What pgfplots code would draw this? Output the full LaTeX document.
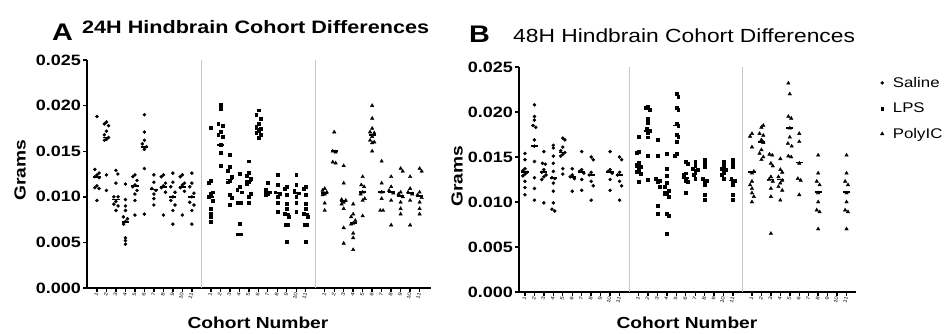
\documentclass[border=0pt]{standalone}
\usepackage{pgfplots}
\pgfplotsset{compat=1.18}
\usepackage{fontspec}
\setmainfont{Liberation Sans}[FakeStretch=1.2]

\pgfplotsset{
 panel/.style={
  scale only axis, anchor=south west,
  axis x line*=bottom, axis y line*=left,
  axis line style={-, line width=2.6pt},
  ymin=0, ymax=0.025, ytick={0,0.005,0.01,0.015,0.02,0.025},
  scaled y ticks=false,
  /pgf/number format/assume math mode=true,
  y tick label style={/pgf/number format/fixed, /pgf/number format/fixed zerofill, /pgf/number format/precision=3, font=\bfseries\fontsize{15}{15}\selectfont, inner sep=2pt},
  xtick={1,2,3,4,5,6,7,8,9,10,11,13,14,15,16,17,18,19,20,21,22,23,25,26,27,28,29,30,31,32,33,34,35},
  xticklabels={1,2,3,4,5,6,7,8,9,10,11,1,2,3,4,5,6,7,8,9,10,11,1,2,3,4,5,6,7,8,9,10,11},
  x tick label style={font=\fontsize{5}{5}\selectfont, rotate=75, anchor=east, inner sep=0.5pt},
  tick align=outside, major tick length=4pt,
  tick style={black, line width=1.4pt},
  clip=false,
 },
 sal/.style={only marks, mark=*, mark size=1.55pt, black},
 lps/.style={only marks, mark=square*, mark size=1.45pt, black},
 pic/.style={only marks, mark=triangle*, mark size=2pt, black},
 med/.style={only marks, mark=-, mark size=3.6pt, black, mark options={line width=1.8pt}, forget plot},
}

\begin{document}
\begin{tikzpicture}[x=1pt,y=1pt]
\useasboundingbox (0pt,0pt) rectangle (947pt,333pt);

% ---------------- Panel A ----------------
\begin{axis}[panel, at={(87pt,45pt)}, width=344pt, height=228pt, xmin=-0.05, xmax=36.2]
\draw[black!22, line width=0.6pt] (axis cs:12,0) -- (axis cs:12,0.025);
\draw[black!22, line width=0.6pt] (axis cs:24,0) -- (axis cs:24,0.025);
\addplot[sal] coordinates {
(1,.0188)(.78,.0130)(1.22,.0126)(1,.0124)(.78,.0122)(1.22,.0121)(1,.0112)(.78,.0110)(1.22,.0109)(1,.0096)
(2,.0182)(1.78,.0180)(2.22,.0178)(2,.0172)(1.78,.0168)(2.22,.0165)(2,.0163)(1.78,.0162)(2,.0124)(2,.0107)
(3,.0129)(3.2,.0125)(3,.0115)(2.78,.0100)(3.22,.0100)(3,.0095)(2.78,.0092)(3.22,.0090)(3,.0085)
(4,.0114)(4,.0097)(4,.0090)(4,.0085)(3.78,.0078)(4.22,.0076)(4,.0073)(3.8,.0070)(4,.0055)(4,.0052)(4,.0048)
(5,.0124)(4.78,.0122)(5.22,.0118)(5,.0113)(4.78,.0111)(5.22,.0107)(5,.0103)(5,.0096)(5,.0080)
(6,.0190)(6,.0171)(6,.0162)(5.78,.0158)(6.22,.0155)(6,.0152)(6,.0131)(6,.0081)
(7,.0124)(7,.0116)(6.78,.0109)(7.22,.0107)(7,.0103)(7,.0098)(7,.0091)
(8,.0124)(7.78,.0122)(8.22,.0115)(8,.0112)(7.78,.0110)(8.22,.0105)(8,.0080)
(9,.0126)(9,.0116)(8.78,.0111)(9.22,.0105)(9,.0100)(8.78,.0096)(9.22,.0091)(9,.0085)(9,.0070)
(10,.0124)(9.78,.0122)(10.22,.0115)(10,.0113)(9.78,.0110)(10.22,.0106)(10,.0080)
(11,.0126)(11,.0115)(10.78,.0111)(11.22,.0104)(11,.0100)(10.78,.0094)(11.22,.0091)(11,.0085)(11,.0070)
};
\addplot[med] coordinates {(1,.0122)(2,.0165)(3,.0097)(4,.0072)(5,.0112)(6,.0155)(7,.0108)(8,.0111)(9,.0100)(10,.0111)(11,.0100)};
\addplot[lps] coordinates {
(13,.0176)(13,.0118)(12.78,.0115)(13.22,.0105)(13,.0103)(12.78,.0100)(13.22,.0096)(13,.0087)(13,.0082)(13,.0078)(13,.0073)
(14,.0201)(14,.0197)(13.78,.0180)(14.22,.0178)(14,.0171)(13.78,.0168)(14.22,.0166)(14,.0157)(14,.0148)(14,.0134)
(15,.0146)(15,.0133)(14.78,.0129)(15.22,.0122)(15,.0118)(14.78,.0116)(15,.0102)(15.22,.0099)(15,.0091)
(16,.0125)(16,.0111)(15.78,.0108)(16.22,.0105)(15.8,.0094)(16.2,.0093)(16,.0071)(15.8,.0059)(16.2,.0059)
(17,.0139)(17,.0126)(16.78,.0123)(17.22,.0120)(17,.0116)(16.78,.0114)(17.22,.0103)(17,.0100)(17,.0094)
(18,.0195)(17.78,.0190)(18.22,.0186)(18,.0180)(17.78,.0177)(18.22,.0175)(18,.0172)(17.78,.0170)(18.22,.0168)(18,.0165)
(19,.0115)(18.78,.0108)(19.22,.0105)(19,.0103)(18.78,.0102)
(20,.0124)(20,.0113)(19.78,.0105)(20.22,.0103)(20,.0100)(20,.0094)(20,.0084)
(21,.0111)(20.78,.0109)(21,.0102)(21,.0092)(21,.0087)(20.78,.0081)(21.22,.0078)(20.85,.0069)(21.15,.0069)(21,.0051)
(22,.0124)(22,.0113)(21.78,.0107)(22.22,.0104)(22,.0100)(22,.0094)(22,.0084)
(23,.0111)(22.78,.0109)(23,.0102)(23,.0092)(23,.0087)(22.78,.0081)(23.22,.0078)(22.85,.0069)(23.15,.0069)(23,.0051)
};
\addplot[med] coordinates {(13,.0100)(14,.0157)(15,.0119)(16,.0094)(17,.0117)(18,.0174)(19,.0105)(20,.0104)(21,.0081)(22,.0104)(23,.0081)};
\addplot[pic] coordinates {
(25,.0109)(24.78,.0107)(25.22,.0105)(25,.0103)(24.78,.0102)(25,.0093)(25,.0085)
(26,.0171)(25.85,.0150)(26.15,.0149)(25.85,.0138)(26.15,.0137)
(27,.0134)(27,.0115)(26.78,.0097)(27.22,.0096)(27,.0094)(26.78,.0092)(27,.0087)(27,.0066)(27,.0049)
(28,.0092)(28,.0081)(27.78,.0078)(28.22,.0074)(28,.0071)(27.78,.0070)(28,.0060)(28,.0055)(28,.0042)
(29,.0122)(28.85,.0113)(29.15,.0111)(29,.0105)(28.78,.0103)(29.22,.0098)(29,.0096)(29,.0079)
(30,.0200)(30,.0186)(30,.0175)(29.78,.0171)(30.22,.0170)(30,.0166)(29.78,.0162)(30.22,.0160)(30,.0159)(30,.0150)
(31,.0139)(31,.0115)(31,.0105)(31,.0098)(30.85,.0085)(31.15,.0085)
(32,.0122)(32,.0111)(31.78,.0107)(32.22,.0104)(32,.0096)(32,.0069)
(33,.0131)(33.22,.0128)(33,.0105)(32.78,.0103)(33.22,.0100)(33,.0094)(33,.0087)(33,.0081)
(34,.0122)(34,.0109)(33.78,.0105)(34.22,.0103)(34,.0096)(34,.0069)
(35,.0131)(35.22,.0128)(35,.0105)(34.78,.0102)(35.22,.0099)(35,.0094)(35,.0087)(35,.0081)
};
\addplot[med] coordinates {(25,.0104)(26,.0150)(27,.0095)(28,.0071)(29,.0105)(30,.0168)(31,.0105)(32,.0105)(33,.0101)(34,.0104)(35,.0101)};
\end{axis}

% ---------------- Panel B ----------------
\begin{axis}[panel, at={(519pt,41pt)}, width=337pt, height=225pt, xmin=0.37, xmax=36,
  legend style={at={(1.072,0.965)}, anchor=north west, draw=none, fill=none,
    font=\fontsize{14}{14}\selectfont, row sep=10pt, inner sep=0pt,
    nodes={inner xsep=9pt}},
  legend cell align=left]
\draw[black!22, line width=0.6pt] (axis cs:12,0) -- (axis cs:12,0.025);
\draw[black!22, line width=0.6pt] (axis cs:24,0) -- (axis cs:24,0.025);
\addplot[sal] coordinates {
(1,.0154)(1,.0147)(1,.0137)(.78,.0135)(1.22,.0133)(1,.0131)(.78,.0129)(1,.0123)(1,.0116)(1,.0108)
(2,.0208)(2,.0195)(2,.0191)(1.85,.0185)(2.15,.0183)(2,.0169)(2,.0162)(2,.0145)(2,.0127)(2,.0115)(2,.0102)
(3,.0156)(2.85,.0143)(3.15,.0142)(3,.0136)(2.78,.0133)(3.22,.0130)(3,.0128)(2.78,.0125)(3,.0099)
(4,.0163)(4,.0160)(4,.0151)(4,.0143)(4,.0134)(3.85,.0127)(4.15,.0126)(4,.0121)(4,.0112)(4,.0099)(3.85,.0092)(4.15,.0090)
(5,.0171)(5.22,.0169)(5,.0161)(4.78,.0157)(5.22,.0155)(5,.0153)(4.78,.0151)(5,.0137)(5,.0131)
(6,.0137)(6,.0130)(5.78,.0128)(6.22,.0126)(6,.0112)
(7,.0156)(7,.0136)(6.78,.0134)(7.22,.0132)(7,.0125)(7,.0113)
(8,.0150)(8.22,.0147)(8,.0133)(7.78,.0130)(8,.0123)(8.22,.0118)(8,.0102)
(10,.0156)(10,.0136)(9.78,.0134)(10.22,.0132)(10,.0125)(10,.0113)
(11,.0150)(11.22,.0147)(11,.0133)(10.78,.0130)(11,.0123)(11.22,.0118)(11,.0102)
};
\addlegendentry{Saline}
\addplot[med] coordinates {(1,.0133)(2,.0162)(3,.0133)(4,.0127)(5,.0155)(6,.0128)(7,.0133)(8,.0130)(10,.0133)(11,.0130)};
\addplot[lps] coordinates {
(13,.0173)(13,.0156)(12.8,.0155)(13,.0144)(12.78,.0142)(13.22,.0139)(13,.0136)(12.78,.0134)(13.22,.0131)(13,.0123)
(14,.0206)(13.8,.0205)(14.2,.0203)(14,.0193)(14,.0188)(13.85,.0182)(14.15,.0179)(14,.0177)(14,.0172)(14,.0151)(14,.0125)
(15,.0169)(15,.0151)(14.78,.0126)(15.22,.0124)(15,.0123)(15.2,.0117)(15,.0096)(15,.0087)
(16,.0154)(16,.0137)(16,.0129)(16,.0121)(15.78,.0117)(16.22,.0113)(16,.0110)(15.78,.0109)(16.22,.0106)(16,.0087)(16.2,.0085)(16,.0065)
(17,.0220)(17.2,.0217)(17,.0205)(17.2,.0203)(17,.0187)(17.2,.0185)(17,.0175)(17.2,.0173)(17,.0167)(17,.0154)(16.8,.0151)
(18,.0145)(18.2,.0143)(18,.0132)(17.8,.0130)(18,.0124)(18.2,.0123)(18,.0110)
(19,.0145)(19,.0140)(18.78,.0137)(19.22,.0136)(19,.0133)(18.8,.0130)(19,.0126)
(20,.0147)(20,.0143)(20,.0139)(19.8,.0126)(20.2,.0124)(20,.0121)(20,.0119)(20,.0108)(20,.0103)
(22,.0145)(22,.0140)(21.78,.0137)(22.22,.0136)(22,.0133)(21.8,.0130)(22,.0126)
(23,.0147)(23,.0143)(23,.0139)(22.8,.0126)(23.2,.0124)(23,.0121)(23,.0119)(23,.0108)(23,.0103)
};
\addlegendentry{LPS}
\addplot[med] coordinates {(13,.0139)(14,.0179)(15,.0124)(16,.0111)(17,.0185)(18,.0127)(19,.0136)(20,.0124)(22,.0136)(23,.0124)};
\addplot[pic] coordinates {
(25,.0176)(24.8,.0173)(25,.0161)(25.2,.0134)(25,.0132)(25,.0123)(24.8,.0119)(25,.0115)(25,.0110)(25.2,.0106)(25,.0100)
(26.2,.0185)(26,.0183)(25.8,.0176)(26.2,.0174)(26,.0169)(26.2,.0166)(26,.0158)(25.8,.0154)(26.2,.0150)(26,.0147)
(26.85,.0153)(27.15,.0152)(27,.0143)(27.2,.0140)(27,.0128)(26.8,.0125)(27.2,.0123)(27,.0115)(27,.0106)(27,.0065)
(28,.0148)(28,.0136)(28.2,.0133)(27.8,.0128)(28.2,.0124)(28,.0121)(27.8,.0117)(28.2,.0113)(28,.0102)
(28.85,.0232)(29,.0220)(28.85,.0195)(29.15,.0193)(29,.0182)(29,.0172)(28.8,.0165)(29.2,.0162)(28.85,.0151)(29.15,.0150)
(30,.0176)(30,.0167)(30,.0143)(29.85,.0126)(30.15,.0124)(30,.0108)
(32,.0152)(32,.0132)(31.85,.0123)(32.15,.0119)(32,.0110)(32,.0100)(31.85,.0091)(32.15,.0089)(32,.0070)
(35,.0152)(35,.0132)(34.85,.0123)(35.15,.0119)(35,.0110)(35,.0100)(34.85,.0091)(35.15,.0089)(35,.0070)
};
\addlegendentry{PolyIC}
\addplot[med] coordinates {(25,.0133)(26,.0167)(27,.0125)(28,.0125)(29,.0182)(30,.0144)(32,.0111)(35,.0111)};
\end{axis}

% ---------------- Texts ----------------
\node[anchor=base west, inner sep=0pt, font=\bfseries\fontsize{24}{24}\selectfont] at (52pt,293pt) {A};
\node[anchor=base west, inner sep=0pt, font=\bfseries\fontsize{18}{18}\selectfont] at (82pt,300pt) {24H Hindbrain Cohort Differences};
\node[anchor=base west, inner sep=0pt, font=\bfseries\fontsize{24}{24}\selectfont] at (469pt,291pt) {B};
\node[anchor=base west, inner sep=0pt, font=\fontsize{19}{19}\selectfont] at (513pt,291pt) {48H Hindbrain Cohort Differences};
\node[rotate=90, inner sep=0pt, font=\bfseries\fontsize{16}{16}\selectfont] at (20pt,163pt) {Grams};
\node[rotate=90, inner sep=0pt, font=\bfseries\fontsize{16}{16}\selectfont] at (457pt,157pt) {Grams};
\node[inner sep=0pt, font=\bfseries\fontsize{16}{16}\selectfont] at (258pt,10pt) {Cohort Number};
\node[inner sep=0pt, font=\bfseries\fontsize{16}{16}\selectfont] at (687pt,10pt) {Cohort Number};
\end{tikzpicture}
\end{document}
